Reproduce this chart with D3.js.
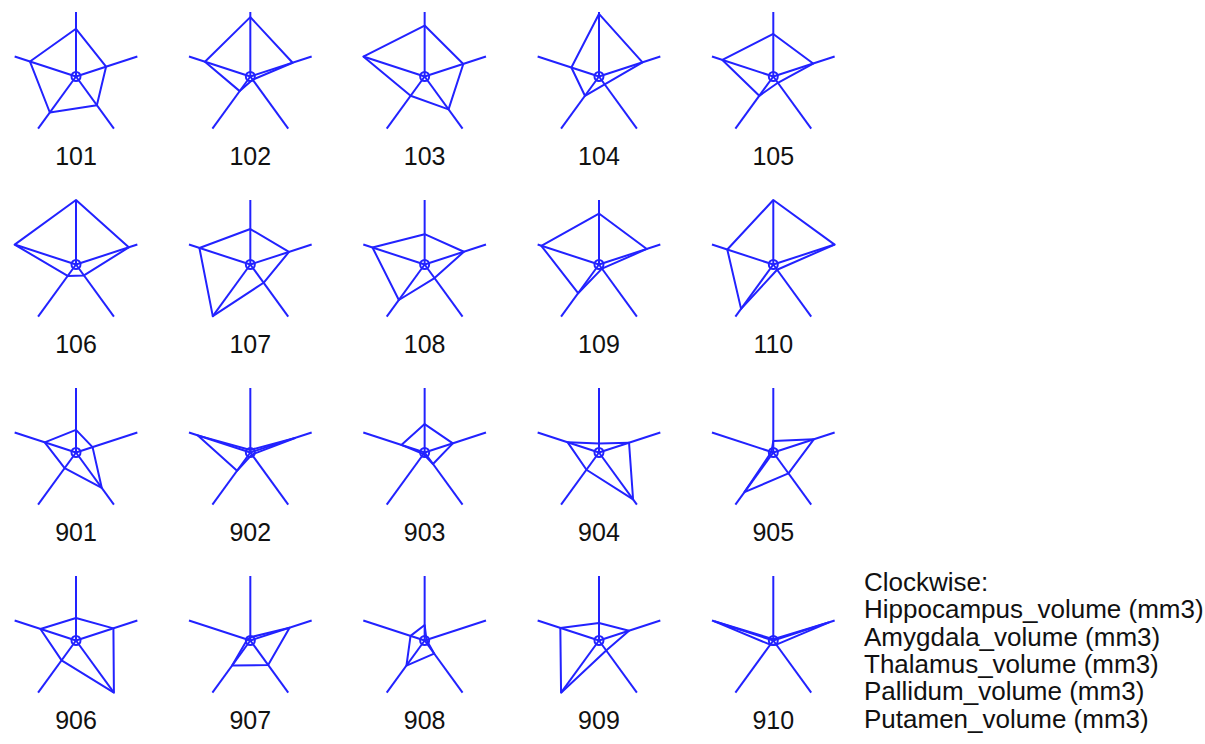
<!DOCTYPE html>
<html>
<head>
<meta charset="utf-8">
<script src="https://cdn.jsdelivr.net/npm/d3@7"></script>
<style>
  html, body { margin: 0; padding: 0; background: #ffffff; }
  svg { display: block; }
</style>
</head>
<body>
<svg id="chart" width="1205" height="744"></svg>
<script>
// Subject labels (row-major, 5 per row)
const subjects = ["101","102","103","104","105","106","107","108","109","110",
                  "901","902","903","904","905","906","907","908","909","910"];
// Variables, clockwise from the top
const variables = ["Hippocampus_volume (mm3)","Amygdala_volume (mm3)","Thalamus_volume (mm3)",
                   "Pallidum_volume (mm3)","Putamen_volume (mm3)"];
// Scaled values (0 = column minimum, 1 = column maximum)
const hippocampus = [0.74,0.92,0.79,0.97,0.66,1.00,0.55,0.47,0.79,1.00,
                     0.35,0.04,0.44,0.14,0.18,0.35,0.05,0.24,0.27,0.02];
const amygdala    = [0.49,0.69,0.63,0.71,0.65,0.86,0.63,0.64,0.78,1.00,
                     0.27,0.73,0.46,0.49,0.66,0.61,0.64,0.03,0.49,0.90];
const thalamus    = [0.55,0.06,0.63,0.15,0.12,0.21,0.35,0.26,0.08,0.10,
                     0.68,0.04,0.22,0.90,0.40,1.00,0.47,0.25,0.19,0.08];
const pallidum    = [0.69,0.28,0.37,0.37,0.37,0.22,0.99,0.68,0.55,0.85,
                     0.30,0.35,0.03,0.33,0.76,0.38,0.48,0.48,1.00,0.08];
const putamen     = [0.75,0.74,1.00,0.45,0.83,1.00,0.83,0.85,0.94,0.75,
                     0.51,0.86,0.38,0.51,0.03,0.58,0.05,0.23,0.63,0.95];
const legendTitle = "Clockwise:";

const series = [hippocampus, amygdala, thalamus, pallidum, putamen];
const nCols = 5, nRows = 4;
const color = "#2222ff";
const sw = 2;

const svg = d3.select("#chart");

const xCol = d3.scaleLinear().domain([0, nCols - 1]).range([76, 773.3]);
const yRow = d3.scaleLinear().domain([0, nRows - 1]).range([76.5, 640.5]);
const r = d3.scaleLinear().domain([0, 1]).range([0, 64.5]);
const angle = d3.scaleLinear().domain([0, variables.length]).range([0, 2 * Math.PI]);

const polyLine = d3.lineRadial()
  .angle((d, i) => angle(i))
  .radius(d => r(d))
  .curve(d3.curveLinearClosed);

const spokeLine = d3.lineRadial()
  .angle(d => d[0])
  .radius(d => r(d[1]));

const stars = svg.selectAll("g.star")
  .data(subjects.map((s, i) => ({ id: s, i, vals: series.map(a => a[i]) })))
  .join("g")
  .attr("class", "star")
  .attr("transform", d => `translate(${xCol(d.i % nCols)},${yRow(Math.floor(d.i / nCols))})`);

// spokes
stars.selectAll("path.spoke")
  .data(variables.map((v, k) => k))
  .join("path")
  .attr("class", "spoke")
  .attr("d", k => spokeLine([[angle(k), 0], [angle(k), 1]]))
  .attr("fill", "none")
  .attr("stroke", color)
  .attr("stroke-width", sw);

// polygons
stars.append("path")
  .attr("d", d => polyLine(d.vals))
  .attr("fill", "none")
  .attr("stroke", color)
  .attr("stroke-width", sw)
  .attr("stroke-linejoin", "round");

// center circle
stars.append("circle")
  .attr("r", 4.5)
  .attr("fill", "none")
  .attr("stroke", color)
  .attr("stroke-width", sw);

// labels
stars.append("text")
  .attr("x", 0)
  .attr("y", 88)
  .attr("text-anchor", "middle")
  .attr("font-family", "'Liberation Sans', Arial, sans-serif")
  .attr("font-size", 25)
  .attr("fill", "#111")
  .text(d => d.id);

// legend
const legend = svg.append("g").attr("transform", "translate(864,591)");
legend.selectAll("text")
  .data([legendTitle].concat(variables))
  .join("text")
  .attr("x", 0)
  .attr("y", (d, i) => i * 27.3)
  .attr("font-family", "'Liberation Sans', Arial, sans-serif")
  .attr("font-size", 26)
  .attr("fill", "#111")
  .text(d => d);
</script>
</body>
</html>
